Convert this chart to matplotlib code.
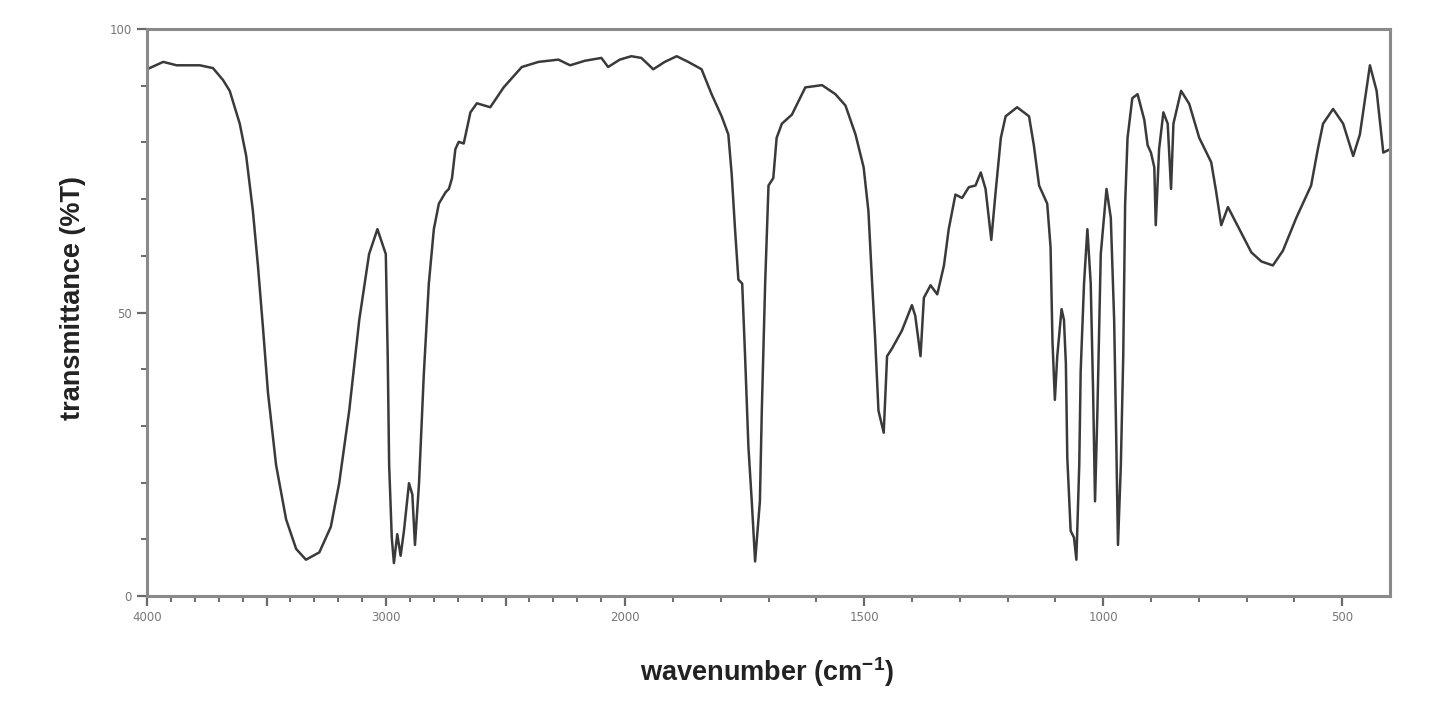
import numpy as np
import matplotlib
matplotlib.use("Agg")
import matplotlib.pyplot as plt

# ---- data ----
wavenumber = [4000, 3932, 3876, 3779, 3724, 3682, 3654, 3612, 3585, 3557, 3536, 3515,
              3494, 3460, 3418, 3376, 3335, 3279, 3231, 3196, 3154, 3112, 3071, 3036,
              3001, 2993, 2987, 2976, 2967, 2953, 2939, 2925, 2904, 2890, 2879, 2862,
              2842, 2821, 2800, 2779, 2751, 2737, 2724, 2710, 2696, 2675, 2647, 2620,
              2564, 2508, 2432, 2362, 2279, 2230, 2168, 2099, 2071, 2022, 1987, 1966,
              1941, 1917, 1892, 1868, 1840, 1819, 1798, 1784, 1777, 1770, 1763, 1755,
              1749, 1742, 1735, 1728, 1718, 1714, 1707, 1700, 1690, 1683, 1672, 1651,
              1623, 1588, 1560, 1539, 1518, 1501, 1491, 1484, 1477, 1470, 1459, 1452,
              1442, 1421, 1400, 1393, 1382, 1375, 1361, 1347, 1333, 1323, 1309, 1295,
              1281, 1267, 1256, 1246, 1234, 1225, 1214, 1204, 1180, 1155, 1145, 1134,
              1117, 1110, 1106, 1101, 1096, 1087, 1082, 1078, 1075, 1068, 1061, 1056,
              1050, 1047, 1040, 1033, 1026, 1021, 1017, 1012, 1005, 993, 984, 977,
              973, 969, 963, 958, 954, 949, 939, 928, 914, 907, 900, 893,
              890, 883, 874, 865, 858, 853, 837, 820, 799, 774, 764, 753,
              739, 715, 690, 669, 645, 624, 596, 565, 551, 540, 519, 498,
              477, 463, 442, 428, 414, 400]
transmittance = [92.9, 94.2, 93.6, 93.6, 93.1, 91.0, 89.1, 83.3, 77.6, 67.9, 58.3, 47.4,
                 35.9, 23.1, 13.5, 8.3, 6.4, 7.7, 12.2, 19.9, 32.7, 48.7, 60.3, 64.7,
                 60.3, 42.3, 23.1, 10.3, 5.8, 10.9, 7.1, 11.5, 19.9, 17.9, 9.0, 19.9,
                 39.1, 55.1, 64.7, 69.2, 71.2, 71.8, 73.7, 78.8, 80.1, 79.8, 85.3, 86.9,
                 86.2, 89.7, 93.3, 94.2, 94.6, 93.6, 94.4, 94.9, 93.3, 94.6, 95.2, 94.9,
                 92.9, 94.2, 95.2, 94.2, 92.9, 88.5, 84.6, 81.4, 74.4, 64.7, 55.8, 55.1,
                 42.3, 26.3, 16.7, 6.1, 16.7, 32.7, 55.1, 72.4, 73.7, 80.8, 83.3, 84.9,
                 89.7, 90.1, 88.5, 86.5, 81.4, 75.6, 67.9, 56.4, 45.5, 32.7, 28.8, 42.3,
                 43.6, 46.8, 51.3, 49.4, 42.3, 52.6, 54.8, 53.2, 58.3, 64.7, 70.8, 70.2,
                 72.1, 72.4, 74.7, 71.8, 62.8, 71.2, 80.8, 84.6, 86.2, 84.6, 79.5, 72.4,
                 69.2, 61.5, 44.9, 34.6, 42.3, 50.6, 48.7, 41.0, 24.4, 11.5, 10.3, 6.4,
                 23.1, 39.7, 55.1, 64.7, 55.1, 35.9, 16.7, 32.7, 60.3, 71.8, 66.7, 48.7,
                 29.5, 9.0, 23.1, 42.3, 69.2, 80.8, 87.8, 88.5, 84.0, 79.5, 78.2, 75.6,
                 65.4, 78.8, 85.3, 83.3, 71.8, 83.3, 89.1, 86.8, 80.8, 76.5, 71.5, 65.4,
                 68.6, 64.7, 60.6, 59.0, 58.3, 60.9, 66.7, 72.4, 78.8, 83.3, 85.9, 83.3,
                 77.6, 81.4, 93.6, 89.1, 78.2, 78.8]

major_ticks = [4000, 3500, 3000, 2500, 2000, 1500, 1000, 500]
major_labels = ["4000", "", "3000", "", "2000", "1500", "1000", "500"]
y_ticks = [0, 50, 100]
y_labels = ["0", "50", "100"]


def fwd(w):
    w = np.asarray(w, dtype=float)
    return np.where(w >= 2000, w / 2.0, w - 1000.0)


def inv(u):
    u = np.asarray(u, dtype=float)
    return np.where(u >= 1000, u * 2.0, u + 1000.0)


plt.rcParams['mathtext.fontset'] = 'custom'
plt.rcParams['mathtext.rm'] = 'Liberation Sans:bold'
plt.rcParams['mathtext.bf'] = 'Liberation Sans:bold'

fig = plt.figure(figsize=(14.4, 7.14), dpi=100)
ax = fig.add_axes([147 / 1440, 1 - 596 / 714, (1390 - 147) / 1440, (596 - 29) / 714])
ax.set_xscale('function', functions=(fwd, inv))
ax.plot(wavenumber, transmittance, color='#3a3a3a', lw=1.8, solid_joinstyle='round')
ax.set_xlim(4000, 400)
ax.set_ylim(0, 100)

ax.set_xticks(major_ticks)
ax.set_xticklabels(major_labels)
ax.set_xticks(np.arange(500, 4000, 100), minor=True)
ax.set_yticks(y_ticks)
ax.set_yticklabels(y_labels)
ax.set_yticks(np.arange(10, 100, 10), minor=True)

for s in ax.spines.values():
    s.set_color('#8a8a8a')
    s.set_linewidth(2.2)

ax.tick_params(axis='both', which='major', direction='out', length=7, width=1.6,
               color='#6a6a6a', labelsize=8.5, labelcolor='#777777', pad=4)
ax.tick_params(axis='both', which='minor', direction='out', length=4, width=1.4,
               color='#6a6a6a')

ax.set_xlabel(r'wavenumber (cm$^{-1}$)', fontsize=19.5, fontweight='bold',
              family='Liberation Sans', color='#222222')
ax.set_ylabel('transmittance (%T)', fontsize=19.5, fontweight='bold',
              family='Liberation Sans', color='#222222')
ax.xaxis.set_label_coords(0.4985, -0.105)
ax.yaxis.set_label_coords(-0.049, 0.526)

fig.savefig('out.png', dpi=100, facecolor='white')
